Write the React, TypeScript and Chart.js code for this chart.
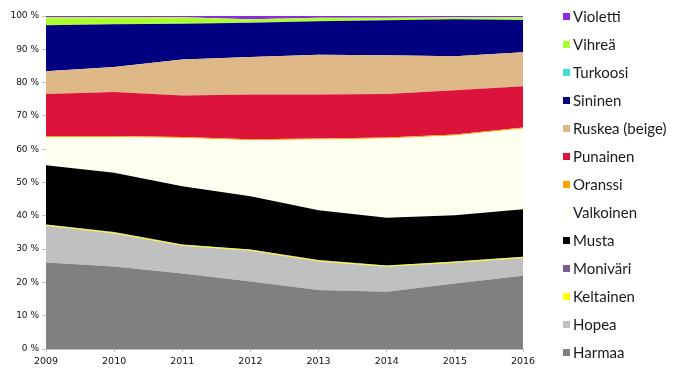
import React, { useEffect, useRef } from "react";
import { Chart, registerables } from "chart.js";

Chart.register(...registerables);

const years = ["2009", "2010", "2011", "2012", "2013", "2014", "2015", "2016"];
const yTicks = [0, 10, 20, 30, 40, 50, 60, 70, 80, 90, 100];

const harmaa = [26.0, 24.8, 22.7, 20.3, 17.7, 17.2, 19.7, 22.0];
const hopea = [11.0, 9.9, 8.3, 9.2, 8.6, 7.5, 6.2, 5.3];
const keltainen = [0.3, 0.3, 0.3, 0.3, 0.3, 0.3, 0.3, 0.3];
const monivari = [0.1, 0.1, 0.1, 0.1, 0.1, 0.1, 0.1, 0.1];
const musta = [17.8, 17.8, 17.5, 16.0, 15.0, 14.3, 13.9, 14.3];
const valkoinen = [8.5, 10.8, 14.5, 16.8, 21.2, 23.8, 23.9, 24.2];
const oranssi = [0.3, 0.3, 0.3, 0.3, 0.3, 0.3, 0.3, 0.3];
const punainen = [12.6, 13.2, 12.4, 13.4, 13.2, 13.1, 13.3, 12.4];
const ruskea = [6.8, 7.5, 10.8, 11.3, 12.0, 11.6, 10.2, 10.2];
const sininen = [13.8, 12.8, 10.8, 10.3, 10.0, 10.5, 11.1, 9.7];
const turkoosi = [0.05, 0.05, 0.05, 0.05, 0.05, 0.05, 0.05, 0.05];
const vihrea = [2.35, 2.05, 1.85, 0.95, 1.05, 0.75, 0.55, 0.75];
const violetti = [0.4, 0.4, 0.4, 1.0, 0.5, 0.5, 0.4, 0.4];

const seriesNames = [
  "Harmaa", "Hopea", "Keltainen", "Moniväri", "Musta", "Valkoinen", "Oranssi",
  "Punainen", "Ruskea (beige)", "Sininen", "Turkoosi", "Vihreä", "Violetti",
];
const seriesValues = [
  harmaa, hopea, keltainen, monivari, musta, valkoinen, oranssi,
  punainen, ruskea, sininen, turkoosi, vihrea, violetti,
];
const seriesColors = [
  "#808080", "#C0C0C0", "#FFFF00", "#765E8F", "#000000", "#FFFFF0", "#FFA500",
  "#DC143C", "#DEB887", "#000080", "#40E0D0", "#ADFF2F", "#8A2BE2",
];

const sideLegend = {
  id: "sideLegend",
  afterDraw(chart: any) {
    const ctx = chart.ctx;
    const ds = chart.data.datasets;
    ctx.save();
    ctx.font = "15px Lato";
    ctx.textBaseline = "middle";
    ctx.textAlign = "left";
    for (let i = 0; i < ds.length; i++) {
      const d = ds[ds.length - 1 - i];
      const cy = 16.5 + i * 28.03;
      ctx.fillStyle = d.backgroundColor;
      ctx.fillRect(563, Math.round(cy - 3.5), 7, 7);
      ctx.fillStyle = "#1a1a1a";
      ctx.fillText(d.label, 573, cy + 0.5);
    }
    ctx.restore();
  },
};

export default function App() {
  const ref = useRef<HTMLCanvasElement>(null);
  useEffect(() => {
    if (!ref.current) return;
    const chart = new Chart(ref.current, {
      type: "line",
      data: {
        labels: years,
        datasets: seriesValues.map((vals, i) => ({
          label: seriesNames[i],
          data: vals,
          backgroundColor: seriesColors[i],
          borderColor: seriesColors[i],
          borderWidth: 0,
          pointRadius: 0,
          fill: i === 0 ? "origin" : "-1",
          tension: 0,
        })),
      },
      options: {
        animation: false,
        responsive: false,
        layout: { padding: { left: 0, top: 16, right: 160, bottom: 0 } },
        plugins: { legend: { display: false }, tooltip: { enabled: false } },
        scales: {
          x: {
            offset: false,
            grid: { drawOnChartArea: false, tickLength: 3, color: "#bfbfbf" },
            border: { color: "#bfbfbf" },
            ticks: { font: { family: "DejaVu Sans", size: 9.5 }, color: "#111", padding: 4, maxRotation: 0 },
            afterFit: (s: any) => { s.height = 24; },
          },
          y: {
            stacked: true,
            min: 0,
            max: 100,
            afterBuildTicks: (s: any) => { s.ticks = yTicks.map((v) => ({ value: v })); },
            grid: { drawOnChartArea: false, tickLength: 4, color: "#bfbfbf" },
            border: { color: "#bfbfbf" },
            ticks: {
              font: { family: "DejaVu Sans", size: 9 },
              color: "#111",
              padding: 3,
              callback: (v: any) => v + " %",
            },
            afterFit: (s: any) => { s.width = 46; },
          },
        },
      },
      plugins: [sideLegend],
    });
    return () => chart.destroy();
  }, []);
  return (
    <div style={{ position: "fixed", left: 0, top: 0, width: 683, height: 373, background: "#fff" }}>
      <canvas ref={ref} width={683} height={373} />
    </div>
  );
}
